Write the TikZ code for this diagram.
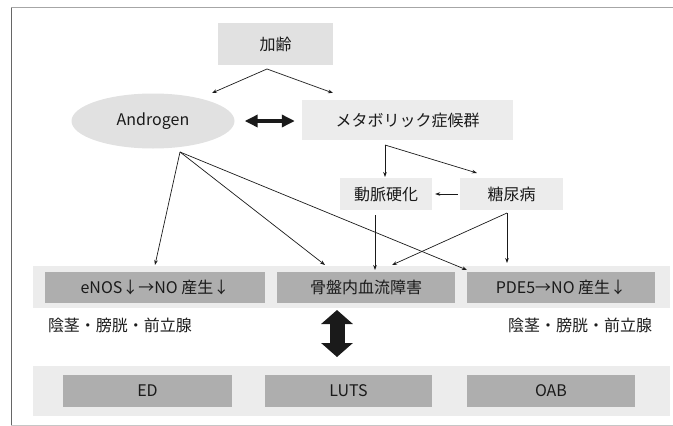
\documentclass[tikz,border=0pt]{standalone}
\usepackage{fontspec}
\newfontfamily\jp{Noto Sans CJK JP}
\usetikzlibrary{arrows.meta,shapes.geometric}
\definecolor{lightbox}{HTML}{E1E1E1}
\definecolor{darkbox}{HTML}{AEAEAE}
\definecolor{bandcol}{HTML}{ECECEC}
\definecolor{inkcol}{HTML}{1A1A1A}
\tikzset{
  txt/.style={font=\jp\fontsize{16}{19}\selectfont, text=inkcol, inner sep=0pt},
  lightrect/.style={txt, rectangle, fill=lightbox, minimum height=#1},
  darkrect/.style={txt, rectangle, fill=darkbox, minimum height=31pt},
  conn/.style={draw=inkcol, line width=0.7pt, -{Stealth[length=5pt,width=3.6pt]}},
  bigharrow/.style={draw=inkcol, line width=4pt, {Triangle[length=13pt,width=12pt]}-{Triangle[length=13pt,width=12pt]}},
  bigvarrow/.style={draw=inkcol, line width=15pt, {Triangle[length=14pt,width=31pt]}-{Triangle[length=14pt,width=31pt]}},
}
\begin{document}
\begin{tikzpicture}[x=1pt,y=-1pt]
\useasboundingbox (0,0) rectangle (673,426);
% frame
\draw[gray!70, line width=0.8pt] (11,7.5) -- (673,7.5);
\draw[gray!80!black, line width=0.8pt] (11,7.5) -- (11,425);
\draw[gray!45, line width=0.6pt] (11,425) -- (673,425);
% background bands
\fill[bandcol] (33,266) rectangle (670,308);
\fill[bandcol] (33,366) rectangle (670,416);
% nodes
\node[lightrect=42pt, minimum width=115pt] (aging) at (275.5,44) {加齢};
\node[txt, ellipse, fill=lightbox, minimum width=163pt, minimum height=55pt] (andro) at (153,121) {Androgen};
\node[lightrect=40pt, minimum width=211pt, fill=bandcol] (metab) at (407.5,120) {メタボリック症候群};
\node[lightrect=32pt, minimum width=92pt, fill=bandcol] (athero) at (386,194) {動脈硬化};
\node[lightrect=32pt, minimum width=103pt, fill=bandcol] (diab) at (511.5,194) {糖尿病};
\node[darkrect, minimum width=220pt] (enos) at (155,287.5) {eNOS↓→NO 産生↓};
\node[darkrect, minimum width=178pt] (pelvis) at (366,287.5) {骨盤内血流障害};
\node[darkrect, minimum width=188pt] (pde) at (561,287.5) {PDE5→NO 産生↓};
\node[txt] (orgL) at (120,325) {陰茎・膀胱・前立腺};
\node[txt] (orgR) at (580,325) {陰茎・膀胱・前立腺};
\node[darkrect, minimum width=169pt, minimum height=32pt] (ed) at (147.5,391) {ED};
\node[darkrect, minimum width=167pt, minimum height=32pt] (luts) at (348.5,391) {LUTS};
\node[darkrect, minimum width=168pt, minimum height=32pt] (oab) at (551,391) {OAB};
% connector points
\coordinate (agB) at (267,69);
\coordinate (anT) at (212,93);
\coordinate (meT) at (333,93);
\coordinate (anB) at (180,152);
\coordinate (enT) at (155,265);
\coordinate (peT1) at (325,265);
\coordinate (pdT1) at (467,270);
\coordinate (meB) at (385,145);
\coordinate (atT) at (385,177);
\coordinate (diT) at (477,173);
\coordinate (atB) at (375,215);
\coordinate (peT2) at (375,270);
\coordinate (diB) at (507,213);
\coordinate (peT3) at (392,265);
\coordinate (pdT2) at (507,263);
\coordinate (vTop) at (337,310);
\coordinate (vBot) at (337,357);
% connectors
\draw[conn] (agB) -- (anT);
\draw[conn] (agB) -- (meT);
\draw[conn] (anB) -- (enT);
\draw[conn] (anB) -- (peT1);
\draw[conn] (anB) -- (pdT1);
\draw[conn] (meB) -- (atT);
\draw[conn] (meB) -- (diT);
\draw[conn, shorten <=2pt, shorten >=3pt] (diab.west) -- (athero.east);
\draw[conn] (atB) -- (peT2);
\draw[conn] (diB) -- (peT3);
\draw[conn] (diB) -- (pdT2);
\draw[bigharrow, shorten <=10pt, shorten >=7pt] (andro.east) -- (andro.east -| metab.west);
\draw[bigvarrow] (vTop) -- (vBot);
\end{tikzpicture}
\end{document}
